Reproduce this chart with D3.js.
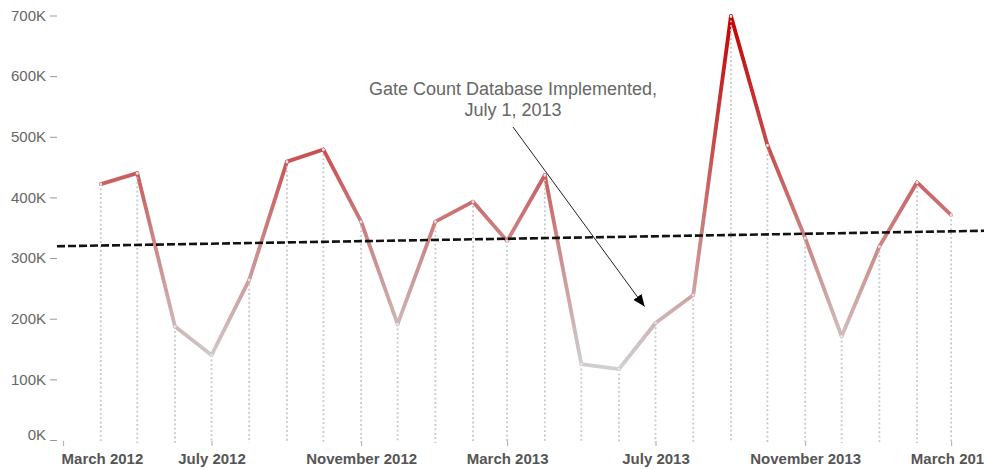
<!DOCTYPE html>
<html>
<head>
<meta charset="utf-8">
<script src="https://cdnjs.cloudflare.com/ajax/libs/d3/7.8.5/d3.min.js"></script>
<style>
  body { margin: 0; background: #fff; }
  svg { display: block; font-family: "Liberation Sans", Arial, sans-serif; }
</style>
</head>
<body>
<div id="chart"></div>
<script>
// monthly gate counts, April 2012 - March 2014
var months = ["2012-04","2012-05","2012-06","2012-07","2012-08","2012-09","2012-10","2012-11","2012-12",
              "2013-01","2013-02","2013-03","2013-04","2013-05","2013-06","2013-07","2013-08","2013-09",
              "2013-10","2013-11","2013-12","2014-01","2014-02","2014-03"];
var counts = [422000, 440000, 187000, 140000, 264000, 459000, 479000, 360000, 191000,
              360000, 393000, 328000, 437000, 125000, 117000, 193000, 239000, 699000,
              486000, 333000, 171000, 319000, 425000, 371000];

// trend line end points (date, value)
var trendDates = ["2012-02-25", "2014-03-28"];
var trendValues = [319500, 345000];

// axis ticks
var xTicks = ["2012-03","2012-07","2012-11","2013-03","2013-07","2013-11","2014-03"];
var yTicks = [0, 100000, 200000, 300000, 400000, 500000, 600000, 700000];

// annotation
var noteLines = ["Gate Count Database Implemented,", "July 1, 2013"];
var noteTarget = {date: "2013-06-22", value: 220000};

var width = 984, height = 470;
var parseMonth = d3.timeParse("%Y-%m");
var parseDay = d3.timeParse("%Y-%m-%d");

var data = months.map(function(m, i){ return {date: parseMonth(m), value: counts[i]}; });

var x = d3.scaleTime()
    .domain([parseDay(trendDates[0]), parseDay(trendDates[1])])
    .range([57, 984]);
var y = d3.scaleLinear()
    .domain([0, 700000])
    .range([440, 15.5]);
var color = d3.scaleLinear()
    .domain([d3.min(counts), d3.max(counts)])
    .range(["#d0d0d0", "#c40000"]);

var svg = d3.select("#chart").append("svg")
    .attr("width", width)
    .attr("height", height);

var defs = svg.append("defs");
defs.append("marker")
    .attr("id", "arrow")
    .attr("viewBox", "0 0 12 10")
    .attr("refX", 12).attr("refY", 5)
    .attr("markerWidth", 12).attr("markerHeight", 10)
    .attr("markerUnits", "userSpaceOnUse")
    .attr("orient", "auto")
  .append("path")
    .attr("d", "M0,0 L12,5 L0,10 Z")
    .attr("fill", "#000");

// y axis
var yAxis = svg.append("g")
    .attr("transform", "translate(57,0)")
    .call(d3.axisLeft(y).tickValues(yTicks).tickSize(7).tickPadding(4)
        .tickFormat(function(d){ return (d / 1000) + "K"; }));
yAxis.select(".domain").remove();
yAxis.selectAll("line").attr("stroke", "#999");
yAxis.selectAll("text").attr("fill", "#666").style("font-size", "15px").style("font-family", "inherit");
yAxis.selectAll(".tick").filter(function(d){ return d === 0; }).select("text").attr("dy", "-0.05em");

// x axis
var xAxis = svg.append("g")
    .attr("transform", "translate(0,441)")
    .call(d3.axisBottom(x).tickValues(xTicks.map(parseMonth)).tickSize(5).tickPadding(7)
        .tickFormat(d3.timeFormat("%B %Y")));
xAxis.select(".domain").remove();
xAxis.selectAll("line").attr("stroke", "#aaa");
xAxis.selectAll("text").attr("fill", "#555").style("font-size", "15px")
    .style("font-weight", "bold").style("font-family", "inherit");
xAxis.select(".tick text").attr("text-anchor", "start").attr("x", -2);

// coloured line, one gradient per segment
var segs = d3.pairs(data);
segs.forEach(function(p, i){
    var g = defs.append("linearGradient")
        .attr("id", "seg" + i)
        .attr("gradientUnits", "userSpaceOnUse")
        .attr("x1", x(p[0].date)).attr("y1", y(p[0].value))
        .attr("x2", x(p[1].date)).attr("y2", y(p[1].value));
    g.append("stop").attr("offset", "0%").attr("stop-color", color(p[0].value));
    g.append("stop").attr("offset", "100%").attr("stop-color", color(p[1].value));
});
svg.append("g").selectAll("line")
    .data(segs)
    .enter()
    .append("line")
    .attr("x1", function(p){ return x(p[0].date); })
    .attr("y1", function(p){ return y(p[0].value); })
    .attr("x2", function(p){ return x(p[1].date); })
    .attr("y2", function(p){ return y(p[1].value); })
    .attr("stroke", function(p, i){ return "url(#seg" + i + ")"; })
    .attr("stroke-width", 3.8)
    .attr("stroke-linecap", "round");

// dotted drop lines
svg.append("g").selectAll("line")
    .data(data)
    .enter()
    .append("line")
    .attr("x1", function(d){ return x(d.date); })
    .attr("x2", function(d){ return x(d.date); })
    .attr("y1", function(d){ return y(d.value); })
    .attr("y2", 443)
    .attr("stroke", "#c6c6c6")
    .attr("stroke-width", 1.8)
    .attr("stroke-dasharray", "1.8,2.6");

svg.append("g").selectAll("circle")
    .data(data)
    .enter()
    .append("circle")
    .attr("cx", function(d){ return x(d.date); })
    .attr("cy", function(d){ return y(d.value); })
    .attr("r", 1.4)
    .attr("fill", "#e4e4e4");

// trend line
svg.append("line")
    .attr("x1", x(parseDay(trendDates[0]))).attr("y1", y(trendValues[0]))
    .attr("x2", x(parseDay(trendDates[1]))).attr("y2", y(trendValues[1]))
    .attr("stroke", "#111")
    .attr("stroke-width", 2.6)
    .attr("stroke-dasharray", "8,3");

// annotation
var note = svg.append("text")
    .attr("x", 513)
    .attr("y", 95)
    .attr("text-anchor", "middle")
    .attr("fill", "#666")
    .style("font-size", "18px");
note.selectAll("tspan")
    .data(noteLines)
    .enter()
    .append("tspan")
    .attr("x", 513)
    .attr("dy", function(d, i){ return i ? 21 : 0; })
    .text(function(d){ return d; });

svg.append("line")
    .attr("x1", 513).attr("y1", 127)
    .attr("x2", x(parseDay(noteTarget.date))).attr("y2", y(noteTarget.value))
    .attr("stroke", "#222")
    .attr("stroke-width", 1)
    .attr("marker-end", "url(#arrow)");
</script>
</body>
</html>
